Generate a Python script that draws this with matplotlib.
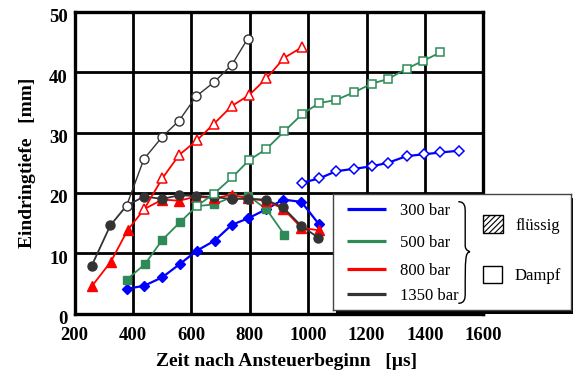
import numpy as np
import matplotlib
matplotlib.use('Agg')
import matplotlib.pyplot as plt
from matplotlib.patches import Rectangle, PathPatch
from matplotlib.path import Path
from matplotlib.transforms import ScaledTranslation

plt.rcParams['font.family'] = ['Liberation Serif', 'DejaVu Serif']
plt.rcParams['hatch.linewidth'] = 0.8

C_BLUE = '#0000FF'
C_GREEN = '#2E8B57'
C_RED = '#FF0000'
C_BLACK = '#333333'

# ---- data ----
blue_liq_x = [380, 438, 500, 560, 618, 680, 738, 795, 857, 914, 977, 1037]
blue_liq_y = [4.1, 4.6, 6.0, 8.2, 10.4, 12.1, 14.7, 15.8, 17.3, 18.9, 18.5, 14.8]
blue_vap_x = [980, 1038, 1096, 1158, 1217, 1274, 1337, 1396, 1453, 1517]
blue_vap_y = [21.7, 22.4, 23.6, 24.0, 24.4, 25.0, 26.1, 26.4, 26.7, 27.0]

green_liq_x = [378, 441, 500, 560, 618, 678, 738, 795, 857, 918]
green_liq_y = [5.6, 8.2, 12.2, 15.1, 17.8, 18.1, 19.3, 19.5, 17.3, 13.1]
green_vap_x = [618, 678, 740, 797, 857, 918, 980, 1038, 1095, 1158, 1217, 1274, 1337, 1394, 1453]
green_vap_y = [17.8, 19.9, 22.6, 25.4, 27.3, 30.2, 33.1, 34.9, 35.4, 36.7, 38.1, 38.9, 40.6, 41.9, 43.3]

red_liq_x = [260, 324, 381, 438, 500, 558, 616, 677, 738, 793, 854, 914, 977, 1037]
red_liq_y = [4.6, 8.6, 13.8, 17.3, 18.9, 18.7, 19.4, 19.1, 19.7, 19.1, 18.7, 17.4, 14.2, 13.8]
red_vap_x = [438, 500, 558, 618, 678, 738, 797, 857, 918, 980]
red_vap_y = [17.3, 22.4, 26.3, 28.7, 31.5, 34.4, 36.2, 39.0, 42.4, 44.2]

black_liq_x = [258, 322, 378, 438, 500, 557, 616, 677, 738, 793, 854, 914, 977, 1034]
black_liq_y = [7.9, 14.6, 17.9, 19.4, 19.0, 19.6, 19.5, 19.3, 19.0, 19.0, 18.9, 17.6, 14.5, 12.6]
black_vap_x = [378, 437, 500, 558, 616, 678, 738, 793]
black_vap_y = [17.9, 25.6, 29.3, 32.0, 36.0, 38.4, 41.2, 45.6]

x_ticks = [200, 400, 600, 800, 1000, 1200, 1400, 1600]
y_ticks = [0, 10, 20, 30, 40, 50]
pressures = ['300 bar', '500 bar', '800 bar', '1350 bar']

W, H = 573, 378
fig = plt.figure(figsize=(W / 100, H / 100), dpi=100)


def fx(px):
    return px / W


def fy(py):
    return 1 - py / H


ax = fig.add_axes([fx(74.7), fy(313.5), fx(483.3) - fx(74.7), fy(12) - fy(313.5)])
ax.set_xlim(200, 1600)
ax.set_ylim(0, 50)
ax.set_xticks(x_ticks)
ax.set_yticks(y_ticks)
ax.set_xticklabels([str(v) for v in x_ticks], fontsize=13.5, fontweight='bold')
ax.set_yticklabels([str(v) for v in y_ticks], fontsize=13.5, fontweight='bold')
ax.tick_params(length=0)
ax.tick_params(axis='x', pad=10)
ax.tick_params(axis='y', pad=5)
off = ScaledTranslation(0, -4 / 100, fig.dpi_scale_trans)
for lab in ax.get_yticklabels():
    lab.set_transform(lab.get_transform() + off)
ax.grid(True, color='black', linewidth=2.0)
ax.set_axisbelow(True)
for s in ax.spines.values():
    s.set_linewidth(2.4)

lw = 1.3
# liquid (filled markers); the shared point at the split is shown by the open marker
ax.plot(blue_liq_x, blue_liq_y, '-D', color=C_BLUE, lw=1.6, ms=5.5)
ax.plot(green_liq_x, green_liq_y, '-s', color=C_GREEN, lw=lw, ms=6,
        markevery=[i for i in range(len(green_liq_x)) if i != 4])
ax.plot(red_liq_x, red_liq_y, '-^', color=C_RED, lw=lw, ms=7,
        markevery=[i for i in range(len(red_liq_x)) if i != 3])
ax.plot(black_liq_x, black_liq_y, '-o', color=C_BLACK, lw=lw, ms=6.5,
        markevery=[i for i in range(len(black_liq_x)) if i != 2])

# vapour (open markers)
ax.plot(blue_vap_x, blue_vap_y, '-D', color=C_BLUE, lw=1.6, ms=5.5, mfc='white', mew=1.1)
ax.plot(green_vap_x, green_vap_y, '-s', color=C_GREEN, lw=lw, ms=6, mfc='white', mew=1.1)
ax.plot(red_vap_x, red_vap_y, '-^', color=C_RED, lw=lw, ms=7, mfc='white', mew=1.1)
ax.plot(black_vap_x, black_vap_y, '-o', color=C_BLACK, lw=1.0, ms=6.5, mfc='white', mew=1.0)

fig.text(fx(287), fy(361), 'Zeit nach Ansteuerbeginn   [\u00b5s]', fontsize=14,
         fontweight='bold', ha='center', va='center')
fig.text(fx(28), fy(163), 'Eindringtiefe   [mm]', fontsize=14, fontweight='bold',
         ha='center', va='center', rotation=90)

# ---- legend box with shadow ----
bx0, by0, bx1, by1 = 332.7, 194, 570.7, 310
bw, bh = bx1 - bx0, by1 - by0
fig.patches.append(Rectangle((fx(bx0 + 3.5), fy(by1 + 3.5)), fx(bw), bh / H,
                             transform=fig.transFigure, facecolor='black',
                             edgecolor='none', zorder=5))
lg = fig.add_axes([fx(bx0), fy(by1), fx(bw), bh / H], zorder=6)
lg.set_xlim(0, bw)
lg.set_ylim(bh, 0)
lg.set_xticks([])
lg.set_yticks([])
for s in lg.spines.values():
    s.set_linewidth(1.0)
    s.set_color('#444444')

line_y = [15.3, 46.7, 75.3, 100.3]
for c, p, yy in zip([C_BLUE, C_GREEN, C_RED, C_BLACK], pressures, line_y):
    lg.plot([14.3, 53], [yy, yy], color=c, lw=2.3, solid_capstyle='butt')
    lg.text(67, yy + 2, p, fontsize=12, va='center', ha='left')

# curly brace
bxl, bxr = 125.6, 132.5
yt, ym, yb = 7.7, 57.7, 109.3
verts = [(bxl, yt), (bxr, yt), (bxr, yt + 6), (bxr, yt + 10),
         (bxr, ym - 6),
         (bxr, ym - 1), (bxr + 4.8, ym), (bxr + 4.8, ym),
         (bxr, ym + 1), (bxr, ym + 6),
         (bxr, yb - 10),
         (bxr, yb - 6), (bxr, yb), (bxl, yb)]
codes = [Path.MOVETO, Path.CURVE4, Path.CURVE4, Path.CURVE4,
         Path.LINETO,
         Path.CURVE4, Path.CURVE4, Path.CURVE4,
         Path.CURVE4, Path.CURVE4,
         Path.LINETO,
         Path.CURVE4, Path.CURVE4, Path.CURVE4]
lg.add_patch(PathPatch(Path(verts, codes), facecolor='none', edgecolor='black', lw=1.0))

lg.add_patch(Rectangle((150.7, 21), 19.3, 17.7, facecolor='white', edgecolor='black',
                       hatch='//////', lw=1.0))
lg.text(182.3, 31.7, 'fl\u00fcssig', fontsize=12, va='center', ha='left')
lg.add_patch(Rectangle((150, 72), 19, 17.3, facecolor='white', edgecolor='black', lw=1.0))
lg.text(182, 81.7, 'Dampf', fontsize=12, va='center', ha='left')

fig.savefig('out.png', dpi=100)
